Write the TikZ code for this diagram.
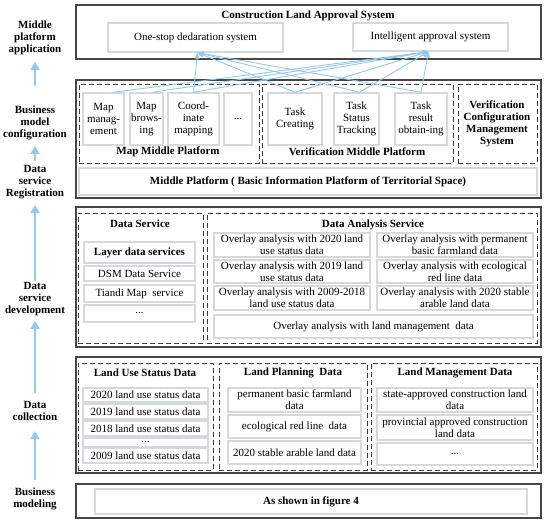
\documentclass[tikz,border=0pt]{standalone}
\usepackage{fontspec}
\setmainfont{Liberation Serif}
\usetikzlibrary{arrows.meta,calc}
\definecolor{arrblue}{RGB}{150,200,236}
\definecolor{outercol}{RGB}{70,70,70}
\definecolor{dashcol}{RGB}{60,60,60}
\definecolor{lightcol}{RGB}{212,217,222}
\newcommand{\mybox}[7]{\node[#1, minimum width={(#5)-(#3)}, minimum height={(#6)-(#4)}] (#2) at ({((#3)+(#5))/2},{((#4)+(#6))/2}) {#7};}
\tikzset{
 outerbox/.style={draw=outercol, line width=1.3pt, inner sep=0pt},
 dashbox/.style={draw=dashcol, line width=0.9pt, dash pattern=on 5pt off 3pt, inner sep=0pt},
 litebox/.style={draw=lightcol, line width=1.4pt, fill=white, inner sep=0pt, align=center, font=\fontsize{11}{12}\selectfont},
 btext/.style={font=\fontsize{11}{12}\selectfont\bfseries, align=center, inner sep=0pt},
 uparrow/.style={draw=arrblue, line width=2pt, -{Triangle[length=8pt,width=9pt]}},
 link/.style={draw=arrblue, line width=0.9pt, -{Triangle[length=6pt,width=5pt]}},
}
\begin{document}
\begin{tikzpicture}[x=1pt,y=-1pt]
\useasboundingbox (0,0) rectangle (550,524);

% side labels
\node[btext, anchor=north] (s1) at (35,21) {Middle\\platform\\application};
\node[btext] (s2) at (35,123) {Business\\model\\configuration};
\node[btext] (s3) at (35,182) {Data\\service\\Registration};
\node[btext] (s4) at (35,299) {Data\\service\\development};
\node[btext] (s5) at (35,411) {Data\\collection};
\node[btext] (s6) at (35,499) {Business\\modeling};
\coordinate (a1s) at (35,86);  \coordinate (a1e) at (35,62);
\coordinate (a2s) at (35,161); \coordinate (a2e) at (35,146);
\coordinate (a3s) at (35,281); \coordinate (a3e) at (35,205);
\coordinate (a4s) at (35,393); \coordinate (a4e) at (35,321);
\coordinate (a5s) at (35,480); \coordinate (a5e) at (35,431);
\draw[uparrow] (a1s) -- (a1e);
\draw[uparrow] (a2s) -- (a2e);
\draw[uparrow] (a3s) -- (a3e);
\draw[uparrow] (a4s) -- (a4e);
\draw[uparrow] (a5s) -- (a5e);

% top box
\mybox{outerbox}{topbox}{76}{5}{541}{59}{}
\node[btext] (topT) at (308,16) {Construction Land Approval System};
\mybox{litebox}{ob}{108}{23}{283}{52}{One-stop dedaration system}
\mybox{litebox}{ib}{353}{23}{508}{51}{Intelligent approval system}

% business model box
\mybox{outerbox}{bm}{76}{80}{541}{198}{}
\mybox{dashbox}{mmp}{79}{84}{259}{163}{}
\mybox{litebox}{mm}{83}{93}{124}{145}{Map\\manag-\\ement}
\mybox{litebox}{mb}{130}{93}{163}{145}{Map\\brows-\\ing}
\mybox{litebox}{mc}{168}{93}{219}{145}{Coord-\\inate\\mapping}
\mybox{litebox}{md}{224}{93}{252}{145}{...}
\node[btext] (mmpT) at (168,152) {Map Middle Platform};
\mybox{dashbox}{vmp}{262}{84}{453}{163}{}
\mybox{litebox}{tc}{268}{93}{322}{145}{Task\\Creating}
\mybox{litebox}{ts}{334}{93}{379}{145}{Task\\Status\\Tracking}
\mybox{litebox}{tr}{395}{93}{447}{145}{Task\\result\\obtain-ing}
\node[btext] (vmpT) at (357,152) {Verification Middle Platform};
\mybox{dashbox}{vcm}{458}{84}{537}{163}{}
\node[btext] (vcmT) at (497,124) {Verification\\Configuration\\Management\\System};
\mybox{litebox}{mp}{79}{168}{537}{195}{\bfseries Middle Platform ( Basic Information Platform of Territorial Space)}

% data service box
\mybox{outerbox}{dsd}{76}{207}{541}{347}{}
\mybox{dashbox}{ds}{78}{213}{203}{343}{}
\node[btext] (dsT) at (140,224) {Data Service};
\mybox{litebox}{l1}{84}{242}{195}{263}{\bfseries Layer data services}
\mybox{litebox}{l2}{84}{266}{195}{281}{DSM Data Service}
\mybox{litebox}{l3}{84}{285}{195}{302}{Tiandi Map\ \ service}
\mybox{litebox}{l4}{84}{305}{195}{322}{...}
\mybox{dashbox}{das}{207}{213}{537}{343}{}
\node[btext] (dasT) at (373,225) {Data Analysis Service};
\mybox{litebox}{o1}{214}{233}{370}{257}{Overlay analysis with 2020 land\\use status data}
\mybox{litebox}{o2}{377}{233}{533}{257}{Overlay analysis with permanent\\basic farmland data}
\mybox{litebox}{o3}{214}{260}{370}{283}{Overlay analysis with 2019 land\\use status data}
\mybox{litebox}{o4}{377}{260}{533}{283}{Overlay analysis with ecological\\red line data}
\mybox{litebox}{o5}{214}{286}{370}{310}{Overlay analysis with 2009-2018\\land use status data}
\mybox{litebox}{o6}{377}{286}{533}{310}{Overlay analysis with 2020 stable\\arable land data}
\mybox{litebox}{o7}{214}{315}{533}{338}{Overlay analysis with land management\ \ data}

% data collection box
\mybox{outerbox}{dc}{76}{357}{541}{473}{}
\mybox{dashbox}{lus}{78}{363}{213}{470}{}
\node[btext] (lusT) at (145,373) {Land Use Status Data};
\mybox{litebox}{u1}{83}{388}{208}{402}{2020 land use status data}
\mybox{litebox}{u2}{83}{404}{208}{419}{2019 land use status data}
\mybox{litebox}{u3}{83}{421}{208}{436}{2018 land use status data}
\mybox{litebox}{u4}{83}{438}{208}{447}{...}
\mybox{litebox}{u5}{83}{448}{208}{463}{2009 land use status data}
\mybox{dashbox}{lpd}{219}{363}{367}{470}{}
\node[btext] (lpdT) at (293,373) {Land Planning\ \ Data};
\mybox{litebox}{p1}{228}{388}{361}{412}{permanent basic farmland\\data}
\mybox{litebox}{p2}{228}{415}{361}{438}{ecological red line\ \ data}
\mybox{litebox}{p3}{228}{441}{361}{464}{2020 stable arable land data}
\mybox{dashbox}{lmd}{371}{363}{537}{470}{}
\node[btext] (lmdT) at (455,373) {Land Management Data};
\mybox{litebox}{m1}{377}{388}{533}{412}{state-approved construction land\\data}
\mybox{litebox}{m2}{377}{415}{533}{440}{provincial approved construction\\land data}
\mybox{litebox}{m3}{377}{443}{533}{465}{...}

% business modeling box
\mybox{outerbox}{bmo}{76}{484}{541}{518}{}
\mybox{litebox}{fig}{95}{489}{527}{514}{\bfseries As shown in figure 4}

% links
\draw[link] ([xshift=9.5pt]mm.north) -- ([xshift=-2pt]ib.south);
\draw[link] ([xshift=5.5pt]mb.north) -- ([xshift=-2pt]ib.south);
\draw[link] (mc.north) -- ([xshift=2pt]ob.south);
\draw[link] (mc.north) -- ([xshift=-2pt]ib.south);
\draw[link] (tc.north) -- ([xshift=2pt]ob.south);
\draw[link] (tc.north) -- ([xshift=-2pt]ib.south);
\draw[link] ([xshift=3pt]ts.north) -- ([xshift=2pt]ob.south);
\draw[link] ([xshift=3pt]ts.north) -- ([xshift=-2pt]ib.south);
\draw[link] (tr.north) -- ([xshift=2pt]ob.south);
\draw[link] (tr.north) -- ([xshift=-2pt]ib.south);
\end{tikzpicture}
\end{document}
